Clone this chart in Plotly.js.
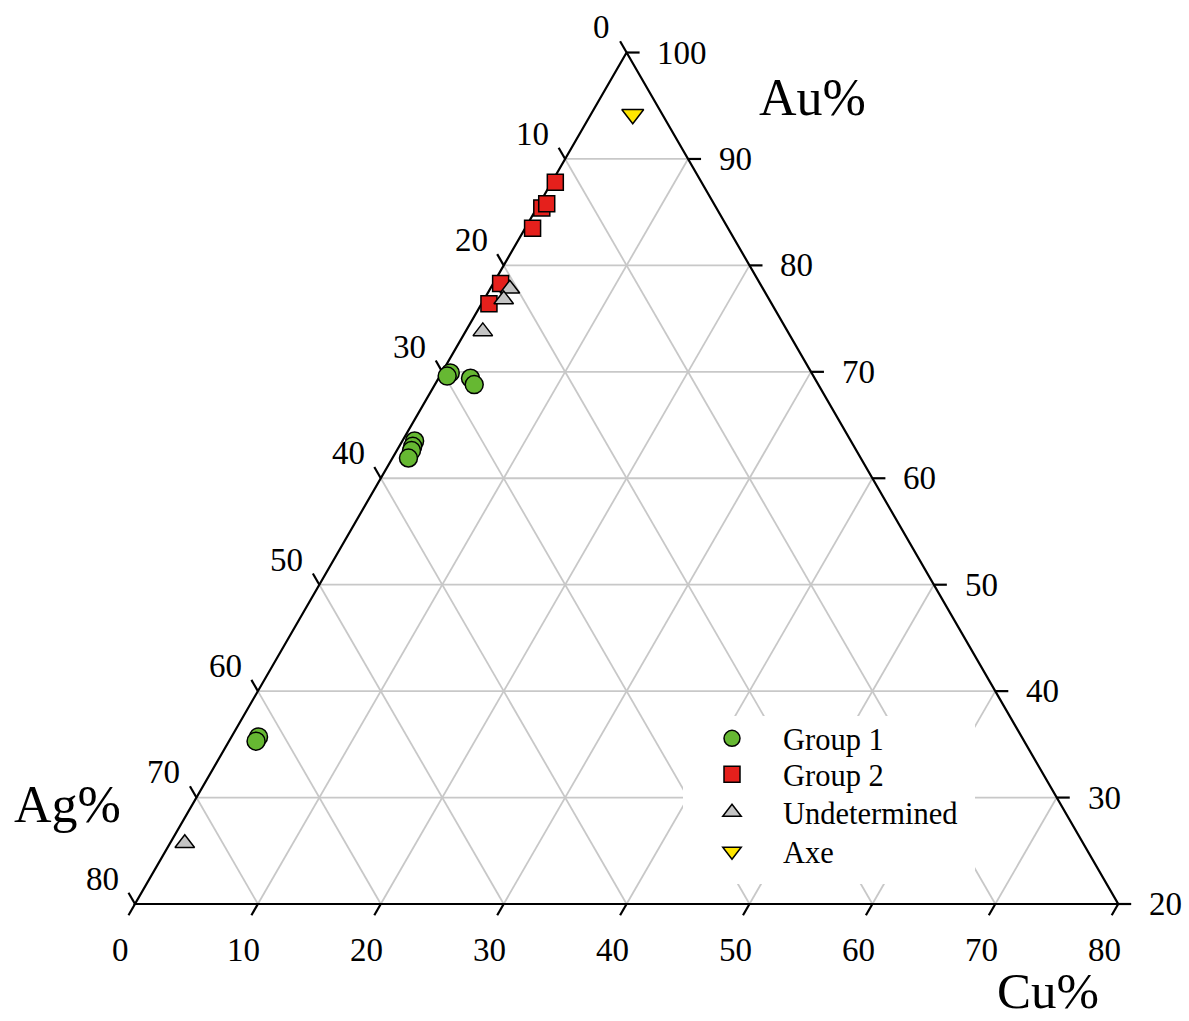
<!DOCTYPE html>
<html><head><meta charset="utf-8">
<script src="https://cdn.plot.ly/plotly-3.0.1.min.js"></script>
<style>html,body{margin:0;padding:0;background:#fff}</style>
</head><body><div id="chart" style="width:1189px;height:1021px"></div>
<script>
// Tick values for each ternary axis
const auTicks = [20, 30, 40, 50, 60, 70, 80, 90, 100];
const agTicks = [0, 10, 20, 30, 40, 50, 60, 70, 80];
const cuTicks = [0, 10, 20, 30, 40, 50, 60, 70, 80];

// Data (Au%, Ag%, Cu%)
const group1Au = [69.9, 69.6, 69.4, 68.8, 63.5, 63.0, 62.6, 61.9, 35.7, 35.3];
const group1Ag = [29.4, 29.8, 28.0, 28.0, 35.5, 35.9, 36.2, 36.8, 62.1, 62.5];
const group1Cu = [0.7, 0.6, 2.6, 3.2, 1.0, 1.1, 1.2, 1.3, 2.2, 2.2];

const group2Au = [87.8, 85.4, 85.8, 83.5, 78.3, 76.4];
const group2Ag = [11.9, 14.2, 13.6, 15.9, 21.1, 23.0];
const group2Cu = [0.3, 0.4, 0.6, 0.6, 0.6, 0.6];

const undetAu = [77.8, 76.8, 73.8, 25.7];
const undetAg = [20.6, 21.6, 24.8, 73.1];
const undetCu = [1.6, 1.6, 1.4, 1.2];

const axeAu = [94.2];
const axeAg = [2.4];
const axeCu = [3.4];

const seriesNames = ['Group 1', 'Group 2', 'Undetermined', 'Axe'];

const AU_MIN = 20;
const S3 = Math.sqrt(3) / 2;
const PX = 12.29; // px per unit (for small offsets)
const W = 1189, H = 1021;

function toXY(au, ag, cu) {
  const s = au + ag + cu;
  const a = au * 100 / s, c = cu * 100 / s;
  return [c + (a - AU_MIN) / 2, (a - AU_MIN) * S3];
}
function series(au, ag, cu) {
  const x = [], y = [];
  for (let i = 0; i < au.length; i++) { const p = toXY(au[i], ag[i], cu[i]); x.push(p[0]); y.push(p[1]); }
  return {x, y};
}

// gridlines
const gx = [], gy = [];
function seg(p, q) { gx.push(p[0], q[0], null); gy.push(p[1], q[1], null); }
auTicks.slice(1, -1).forEach(a => seg(toXY(a, 100 - a, 0), toXY(a, 0, 100 - a)));
agTicks.slice(1, -1).forEach(g => seg(toXY(100 - g, g, 0), toXY(AU_MIN, g, 80 - g)));
cuTicks.slice(1, -1).forEach(c => seg(toXY(AU_MIN, 80 - c, c), toXY(100 - c, 0, c)));

// edges
const vTop = toXY(100, 0, 0), vBL = toXY(AU_MIN, 80, 0), vBR = toXY(AU_MIN, 0, 80);
const ex = [vTop[0], vBL[0], vBR[0], vTop[0]];
const ey = [vTop[1], vBL[1], vBR[1], vTop[1]];

// ticks
const L = 13 / PX;
const tx = [], ty = [];
const annotations = [];
const serif = 'Liberation Serif, Times New Roman, serif';
const tickFont = {family: serif, size: 33, color: '#000'};
auTicks.forEach(a => {
  const p = toXY(a, 0, 100 - a);
  tx.push(p[0], p[0] + L, null); ty.push(p[1], p[1], null);
  annotations.push({x: p[0] + 2.35, y: p[1], xref: 'x', yref: 'y', text: String(a), showarrow: false, xanchor: 'left', yanchor: 'middle', font: tickFont});
});
agTicks.forEach(g => {
  const p = toXY(100 - g, g, 0);
  tx.push(p[0], p[0] - L * 0.5, null); ty.push(p[1], p[1] + L * S3, null);
  annotations.push({x: p[0] - 1.15, y: p[1] + 2.05, xref: 'x', yref: 'y', text: String(g), showarrow: false, xanchor: 'right', yanchor: 'middle', font: tickFont});
});
cuTicks.forEach(c => {
  const p = toXY(AU_MIN, 80 - c, c);
  tx.push(p[0], p[0] - L * 0.5, null); ty.push(p[1], p[1] - L * S3, null);
  annotations.push({x: p[0] - 1.14, y: p[1] - 3.75, xref: 'x', yref: 'y', text: String(c), showarrow: false, xanchor: 'center', yanchor: 'middle', font: tickFont});
});

const titleFont = {family: serif, size: 52, color: '#000'};
annotations.push({x: 55.1, y: 65.6, xref: 'x', yref: 'y', text: 'Au%', showarrow: false, xanchor: 'center', yanchor: 'middle', font: titleFont});
annotations.push({x: -5.5, y: 8.1, xref: 'x', yref: 'y', text: 'Ag%', showarrow: false, xanchor: 'center', yanchor: 'middle', font: titleFont});
annotations.push({x: 74.3, y: -7.1, xref: 'x', yref: 'y', text: 'Cu%', showarrow: false, xanchor: 'center', yanchor: 'middle', font: {family: serif, size: 51, color: '#000'}});

const g1 = series(group1Au, group1Ag, group1Cu);
const g2 = series(group2Au, group2Ag, group2Cu);
const un = series(undetAu, undetAg, undetCu);
const ax = series(axeAu, axeAg, axeCu);

const traces = [
  {x: gx, y: gy, mode: 'lines', line: {color: '#c8c8c8', width: 1.8}, showlegend: false, hoverinfo: 'skip'},
  {x: ex, y: ey, mode: 'lines', line: {color: '#000', width: 2.2}, showlegend: false, hoverinfo: 'skip'},
  {x: tx, y: ty, mode: 'lines', line: {color: '#000', width: 2.2}, showlegend: false, hoverinfo: 'skip'},
  {x: g1.x, y: g1.y, mode: 'markers', name: seriesNames[0], legend: 'legend', marker: {symbol: 'circle', size: 18, color: '#66b832', line: {color: '#000', width: 1.5}}},
  {x: g2.x, y: g2.y, mode: 'markers', name: seriesNames[1], legend: 'legend2', marker: {symbol: 'square', size: 16, color: '#e5201c', line: {color: '#000', width: 1.5}}},
  {x: un.x, y: un.y, mode: 'markers', name: seriesNames[2], legend: 'legend3', marker: {symbol: 'triangle-up', size: 17, color: '#c4c4c4', line: {color: '#000', width: 1.5}}},
  {x: ax.x, y: ax.y, mode: 'markers', name: seriesNames[3], legend: 'legend4', marker: {symbol: 'triangle-down', size: 19, color: '#ffe600', line: {color: '#000', width: 1.5}}}
];

function leg(rowCenterPx) {
  return {x: 681 / W, y: 1 - (rowCenterPx - 28) / H, xanchor: 'left', yanchor: 'top', bgcolor: 'rgba(0,0,0,0)', borderwidth: 0,
    font: {family: serif, size: 30.5, color: '#000'}, itemwidth: 92};
}

const layout = {
  width: W, height: H, autosize: false,
  margin: {l: 0, r: 0, t: 0, b: 0, pad: 0},
  paper_bgcolor: '#fff', plot_bgcolor: '#fff',
  xaxis: {range: [-135 / PX, (W - 135) / PX], visible: false, fixedrange: true},
  yaxis: {range: [-(H - 904) / PX, 904 / PX], visible: false, fixedrange: true},
  showlegend: true,
  legend: leg(740), legend2: leg(776), legend3: leg(814), legend4: leg(853),
  shapes: [{type: 'rect', xref: 'paper', yref: 'paper', x0: 683 / W, x1: 975 / W, y0: 1 - 884 / H, y1: 1 - 716 / H,
    fillcolor: '#fff', line: {width: 0}, layer: 'above'}],
  annotations: annotations
};
Plotly.newPlot('chart', traces, layout, {displayModeBar: false, staticPlot: true});
</script></body></html>
